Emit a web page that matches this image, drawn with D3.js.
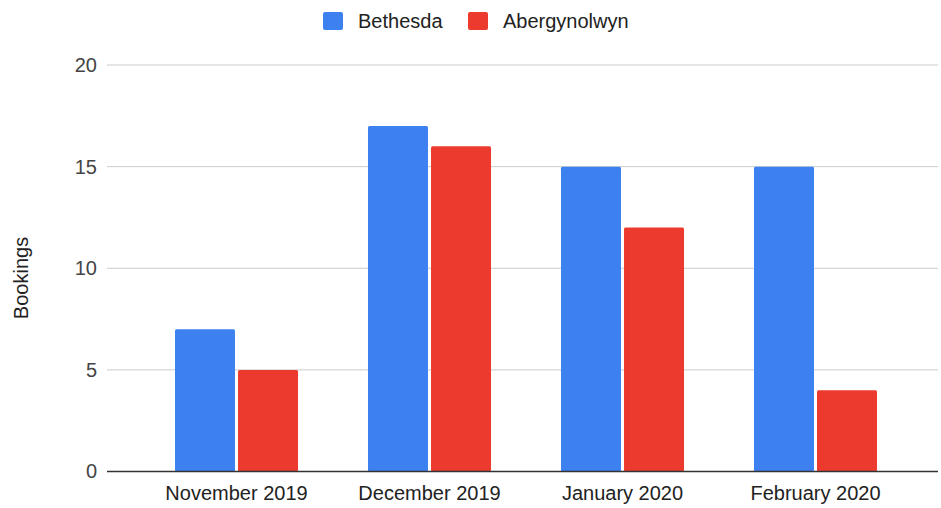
<!DOCTYPE html>
<html>
<head>
<meta charset="utf-8">
<script src="https://cdnjs.cloudflare.com/ajax/libs/d3/7.8.5/d3.min.js"></script>
<style>
  body { margin: 0; background: #fff; }
  text { font-family: Arial, "Liberation Sans", sans-serif; }
</style>
</head>
<body>
<div id="chart"></div>
<script>
// chart data
var months = ['November 2019', 'December 2019', 'January 2020', 'February 2020']
var seriesNames = ['Bethesda', 'Abergynolwyn']
var bethesda = [7, 17, 15, 15]
var abergynolwyn = [5, 16, 12, 4]
var yTicks = [0, 5, 10, 15, 20]

var colors = ['#3d80f0', '#ec3b2e']
var width = 941
var height = 508

var svg = d3.select('#chart').append('svg')
  .attr('width', width)
  .attr('height', height)

// scales
var x0 = d3.scaleBand().domain(months).range([140, 912]).paddingInner(0.3625).paddingOuter(0.18125)
var x1 = d3.scaleBand().domain(seriesNames).range([0, x0.bandwidth()]).paddingInner(0.048)
var y = d3.scaleLinear().domain([0, 20]).range([471.5, 65])

// gridlines
svg.append('g')
  .selectAll('line')
  .data(yTicks.filter(function (d) { return d !== 0 }))
  .enter()
  .append('line')
  .attr('x1', 107)
  .attr('x2', 938)
  .attr('y1', function (d) { return y(d) })
  .attr('y2', function (d) { return y(d) })
  .attr('stroke', '#cccccc')
  .attr('stroke-width', 1)

// y axis labels
var yAxis = d3.axisLeft(y).tickValues(yTicks).tickSize(0).tickPadding(10)
svg.append('g')
  .attr('transform', 'translate(107,0)')
  .call(yAxis)
  .call(function (g) { g.select('.domain').remove() })
  .selectAll('text')
  .attr('font-size', 20)
  .attr('fill', '#444')
  .attr('font-family', 'Arial, "Liberation Sans", sans-serif')

// bars
var rows = months.map(function (m, i) {
  return { month: m, values: [bethesda[i], abergynolwyn[i]] }
})

svg.append('g')
  .selectAll('g')
  .data(rows)
  .enter()
  .append('g')
  .attr('transform', function (d) { return 'translate(' + x0(d.month) + ',0)' })
  .selectAll('rect')
  .data(function (d) {
    return d.values.map(function (v, j) { return { name: seriesNames[j], value: v, idx: j } })
  })
  .enter()
  .append('rect')
  .attr('x', function (d) { return x1(d.name) })
  .attr('width', x1.bandwidth())
  .attr('y', function (d) { return y(d.value) })
  .attr('height', function (d) { return y(0) - y(d.value) })
  .attr('rx', 1.5)
  .attr('fill', function (d) { return colors[d.idx] })

// baseline
svg.append('line')
  .attr('x1', 107)
  .attr('x2', 938)
  .attr('y1', y(0))
  .attr('y2', y(0))
  .attr('stroke', '#333')
  .attr('stroke-width', 1.5)

// x axis labels
var xAxis = d3.axisBottom(x0).tickSize(0).tickPadding(14)
svg.append('g')
  .attr('transform', 'translate(0,' + y(0) + ')')
  .call(xAxis)
  .call(function (g) { g.select('.domain').remove() })
  .selectAll('text')
  .attr('font-size', 20)
  .attr('fill', '#222')
  .attr('font-family', 'Arial, "Liberation Sans", sans-serif')

// y axis title
svg.append('text')
  .attr('transform', 'translate(28,278) rotate(-90)')
  .attr('text-anchor', 'middle')
  .attr('font-size', 20)
  .attr('fill', '#222')
  .text('Bookings')

// legend
var legendX = [323, 468]
var legend = svg.append('g')
  .selectAll('g')
  .data(seriesNames)
  .enter()
  .append('g')
  .attr('transform', function (d, i) { return 'translate(' + legendX[i] + ',12)' })
legend.append('rect')
  .attr('width', 20)
  .attr('height', 18)
  .attr('rx', 2)
  .attr('fill', function (d, i) { return colors[i] })
legend.append('text')
  .attr('x', 35)
  .attr('y', 16)
  .attr('font-size', 20)
  .attr('fill', '#222')
  .text(function (d) { return d })
</script>
</body>
</html>
